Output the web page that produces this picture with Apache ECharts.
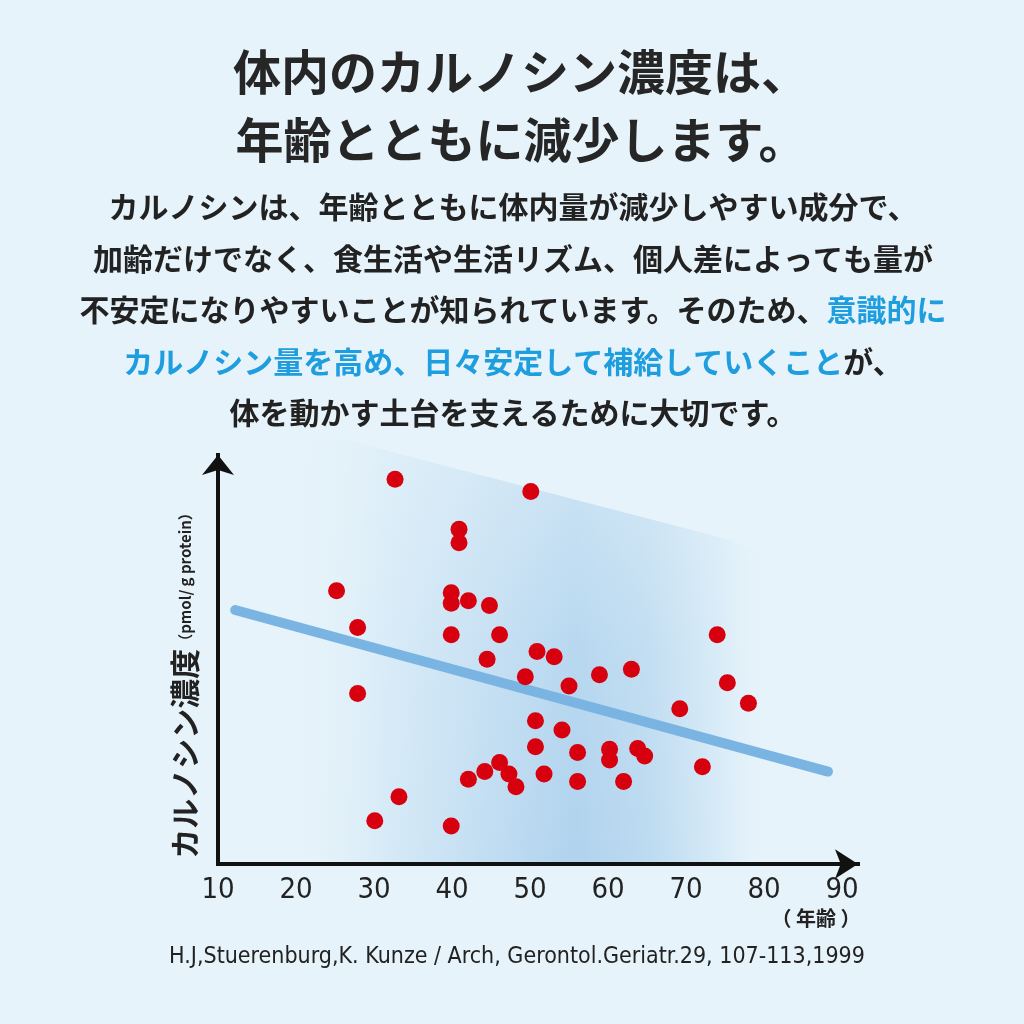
<!DOCTYPE html>
<html><head><meta charset="utf-8">
<script src="https://cdn.jsdelivr.net/npm/echarts@6/dist/echarts.min.js"></script>
<style>html,body{margin:0;padding:0;background:#e6f3fa}#c{width:1024px;height:1024px}</style>
</head><body><div id="c"></div>
<script>
// ---- data ----
const ages = [32.7,50.1,40.9,40.9,25.2,39.9,39.9,42.1,44.8,27.9,39.9,46.1,50.9,44.5,49.4,27.9,50.7,50.7,46.1,44.2,42.1,47.3,48.2,51.8,33.2,30.1,39.9,53.1,55.0,58.9,63.0,74.0,75.3,78.0,69.2,54.1,56.1,60.2,60.2,63.8,64.7,72.1,56.1,62.0];
const carnosine = [96.2,93.1,83.7,80.3,68.3,67.8,65.2,65.8,64.6,59.1,57.3,57.3,53.1,51.2,46.8,42.6,35.8,29.3,25.4,23.1,21.2,22.5,19.3,22.5,16.8,10.8,9.5,51.8,44.5,47.3,48.7,57.3,45.3,40.2,38.8,33.5,27.9,28.7,26.0,28.9,27.0,24.3,20.6,20.6];
const trendAges = [12.2, 88.2];
const trendValues = [63.5, 23.1];
const xTicks = [10,20,30,40,50,60,70,80,90];
const titleLines = ['体内のカルノシン濃度は、', '年齢とともに減少します。'];
const bodyLines = [
  [['n','カルノシンは、年齢とともに体内量が減少しやすい成分で、']],
  [['n','加齢だけでなく、食生活や生活リズム、個人差によっても量が']],
  [['n','不安定になりやすいことが知られています。そのため、'],['b','意識的に']],
  [['b','カルノシン量を高め、日々安定して補給していくこと'],['n','が、']],
  [['n','体を動かす土台を支えるために大切です。']]
];
const yName = 'カルノシン濃度';
const yUnit = '（pmol/ g protein）';
const xUnit = '（ 年齢 ）';
const citation = 'H.J,Stuerenburg,K. Kunze / Arch, Gerontol.Geriatr.29, 107-113,1999';

const scatterData = ages.map((a,i)=>[a, carnosine[i]]);
const trendData = trendAges.map((a,i)=>[a, trendValues[i]]);

const JP = '"Noto Sans CJK JP", sans-serif';
const NARROW = '"Liberation Sans Narrow", "DejaVu Sans Condensed", sans-serif';

const graphics = [];
// shaded background region behind the plot
const shadePts = [[268,440],[345,440],[730,540],[860,603],[860,862],[268,862]];
graphics.push({
  type:'polygon', z:-10, silent:true, shape:{points:shadePts},
  style:{fill:new echarts.graphic.LinearGradient(0,0,1,0,[
    {offset:0.03,color:'rgba(230,243,250,0)'},
    {offset:0.2,color:'#d6eaf7'},
    {offset:0.4,color:'#bedbf1'},
    {offset:0.52,color:'#b0d3ee'},
    {offset:0.64,color:'#bcdaf0'},
    {offset:0.76,color:'#d6eaf7'},
    {offset:0.85,color:'rgba(230,243,250,0)'}])}
});
graphics.push({
  type:'polygon', z:-9, silent:true, shape:{points:shadePts},
  style:{fill:new echarts.graphic.LinearGradient(0,0,0,1,[
    {offset:0,color:'rgba(230,243,250,0.55)'},
    {offset:0.5,color:'rgba(230,243,250,0.15)'},
    {offset:1,color:'rgba(230,243,250,0)'}])}
});
titleLines.forEach((t,i)=>graphics.push({
  type:'text', x:521, y:72+i*68,
  style:{text:t, align:'center', verticalAlign:'middle', font:'bold 48px '+JP, fill:'#262626'}
}));
const bodyY = [207,259,310,362,413];
bodyLines.forEach((segs,i)=>graphics.push({
  type:'text', x:513, y:bodyY[i],
  style:{text:segs.map(s=>'{'+s[0]+'|'+s[1]+'}').join(''), align:'center', verticalAlign:'middle',
    rich:{n:{fontFamily:JP,fontSize:30,fontWeight:'bold',fill:'#222222'},
          b:{fontFamily:JP,fontSize:30,fontWeight:'bold',fill:'#1e9ddf'}}}
}));
graphics.push({
  type:'text', x:185, y:682, rotation:Math.PI/2,
  style:{text:'{a|'+yName+'}{u|'+yUnit+'}', align:'center', verticalAlign:'middle',
    rich:{a:{fontFamily:JP,fontSize:30,fontWeight:'bold',fill:'#222'},
          u:{fontFamily:JP,fontSize:15,fontWeight:'bold',fill:'#222'}}}
});
graphics.push({
  type:'text', x:816, y:918,
  style:{text:xUnit, align:'center', verticalAlign:'middle', font:'bold 20px '+JP, fill:'#222'}
});
graphics.push({
  type:'text', x:517, y:957,
  style:{text:citation, align:'center', verticalAlign:'middle', font:'23px '+NARROW, fill:'#222'}
});

const chart = echarts.init(document.getElementById('c'), null, {renderer:'canvas'});
chart.setOption({
  backgroundColor:'#e6f3fa',
  animation:false,
  graphic:graphics,
  grid:{left:218, right:166, top:455, bottom:160},
  xAxis:{
    type:'value', min:10, max:92.05, interval:10,
    axisLine:{onZero:false, symbol:['none','arrow'], symbolSize:[22,23], lineStyle:{color:'#111', width:4, cap:'square'}},
    axisTick:{show:false}, splitLine:{show:false},
    axisLabel:{margin:12, color:'#222', fontFamily:NARROW, fontSize:29,
      formatter:v=>xTicks.indexOf(v)>=0 ? String(v) : ''}
  },
  yAxis:{
    type:'value', min:0, max:102.25,
    axisLine:{show:true, onZero:false, symbol:['none','arrow'], symbolSize:[24,20], lineStyle:{color:'#111', width:4, cap:'square'}},
    axisTick:{show:false}, splitLine:{show:false}, axisLabel:{show:false}
  },
  series:[
    {type:'line', data:trendData, symbol:'none', z:2, silent:true,
     lineStyle:{color:'#79b4e2', width:10, cap:'round'}},
    {type:'scatter', data:scatterData, symbolSize:17, z:3,
     itemStyle:{color:'#d7000f', opacity:1}}
  ]
});
</script></body></html>
